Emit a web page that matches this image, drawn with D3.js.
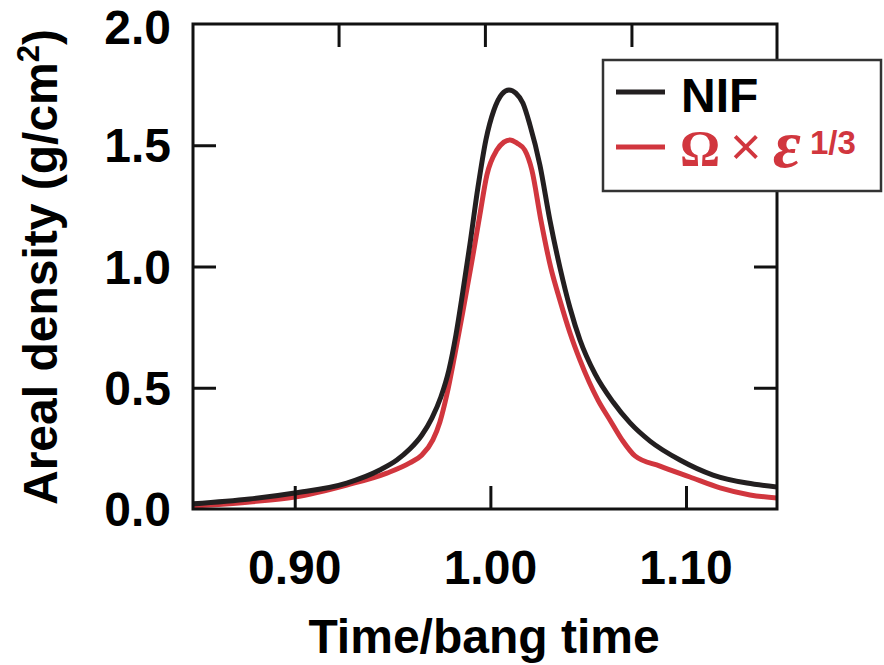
<!DOCTYPE html>
<html>
<head>
<meta charset="utf-8">
<script src="https://cdn.jsdelivr.net/npm/d3@7"></script>
<style>
  html, body { margin: 0; padding: 0; background: #fff; }
  svg { display: block; }
</style>
</head>
<body>
<svg id="chart" width="884" height="665" font-family="'Liberation Sans', Arial, Helvetica, sans-serif" font-weight="bold"></svg>
<script>
// ---- data ----
const nifTime = [0.8478,0.8770,0.9000,0.9266,0.9435,0.9522,0.9588,0.9650,0.9701,0.9747,0.9788,0.9824,0.9859,0.9895,0.9936,0.9977,1.0018,1.0059,1.0095,1.0130,1.0166,1.0202,1.0253,1.0304,1.0356,1.0407,1.0458,1.0535,1.0627,1.0714,1.0816,1.0969,1.1138,1.1312,1.1465];
const nifRho  = [0.021,0.041,0.066,0.107,0.161,0.202,0.247,0.305,0.375,0.462,0.573,0.718,0.895,1.089,1.324,1.522,1.645,1.711,1.728,1.715,1.674,1.584,1.419,1.192,0.994,0.829,0.697,0.557,0.441,0.355,0.280,0.202,0.140,0.107,0.091];
const omegaTime = [0.8478,0.8770,0.9000,0.9266,0.9471,0.9588,0.9650,0.9706,0.9742,0.9777,0.9818,0.9859,0.9905,0.9946,0.9982,1.0033,1.0069,1.0100,1.0136,1.0176,1.0212,1.0258,1.0309,1.0355,1.0407,1.0458,1.0550,1.0611,1.0673,1.0739,1.0867,1.1020,1.1174,1.1327,1.1465];
const omegaRho  = [0.012,0.029,0.049,0.099,0.148,0.190,0.223,0.285,0.359,0.470,0.635,0.812,1.019,1.212,1.377,1.480,1.513,1.522,1.509,1.480,1.398,1.192,0.994,0.862,0.726,0.614,0.449,0.367,0.285,0.219,0.177,0.132,0.087,0.058,0.045];
const xTicks = [0.90, 1.00, 1.10];
const xTickLabels = ["0.90", "1.00", "1.10"];
const xTopTicks = [0.9224, 0.9972, 1.0721];
const yTicks = [0.5, 1.0, 1.5];
const yTickLabels = [["0.0",0],["0.5",0.5],["1.0",1.0],["1.5",1.5],["2.0",2.0]];
const seriesNames = ["NIF", "Ω × ε1/3"];
const xTitle = "Time/bang time";

// ---- layout ----
const svg = d3.select("#chart");
const L = 193, R = 777, T = 24, B = 509;
const x = d3.scaleLinear().domain([0.848, 1.1465]).range([L, R]);
const y = d3.scaleLinear().domain([0, 2]).range([B, T]);
const black = "#231f20", red = "#d1363e";

svg.append("clipPath").attr("id","clip").append("rect")
  .attr("x", L).attr("y", T).attr("width", R - L).attr("height", B - T);

const line = d3.line().x(d => x(d[0])).y(d => y(d[1])).curve(d3.curveMonotoneX);
const g = svg.append("g").attr("clip-path", "url(#clip)");
g.append("path").datum(omegaTime.map((t,i)=>[t, omegaRho[i]]))
  .attr("d", line).attr("fill","none").attr("stroke", red).attr("stroke-width", 5).attr("stroke-linejoin","round");
g.append("path").datum(nifTime.map((t,i)=>[t, nifRho[i]]))
  .attr("d", line).attr("fill","none").attr("stroke", black).attr("stroke-width", 5).attr("stroke-linejoin","round");

// ticks (inward)
function styleAxis(sel){ sel.select(".domain").remove(); sel.selectAll(".tick line").attr("stroke","#111").attr("stroke-width",3); sel.selectAll("text").remove(); }
svg.append("g").attr("transform",`translate(0,${B})`).call(d3.axisBottom(x).tickValues(xTicks).tickSize(-23)).call(styleAxis);
svg.append("g").attr("transform",`translate(0,${T})`).call(d3.axisTop(x).tickValues(xTopTicks).tickSize(-23)).call(styleAxis);
svg.append("g").attr("transform",`translate(${L},0)`).call(d3.axisLeft(y).tickValues(yTicks).tickSize(-23)).call(styleAxis);
svg.append("g").attr("transform",`translate(${R},0)`).call(d3.axisRight(y).tickValues(yTicks).tickSize(-23)).call(styleAxis);

// frame
svg.append("rect").attr("x", L).attr("y", T).attr("width", R - L).attr("height", B - T)
  .attr("fill","none").attr("stroke","#111").attr("stroke-width",3);

// tick labels
svg.selectAll(".xl").data(xTicks).enter().append("text")
  .attr("x", d => x(d)).attr("y", 584).attr("text-anchor","middle")
  .attr("font-size", 48).attr("fill","#000").text((d,i)=>xTickLabels[i]);
svg.selectAll(".yl").data(yTickLabels).enter().append("text")
  .attr("x", 171).attr("y", d => Math.min(Math.max(y(d[1]), 27), 510) + 17)
  .attr("text-anchor","end").attr("font-size", 48).attr("fill","#000").text(d => d[0]);

// axis titles
svg.append("text").attr("x", 484).attr("y", 653).attr("text-anchor","middle")
  .attr("font-size", 48).attr("fill","#000").text(xTitle);
const yt = svg.append("text").attr("transform","translate(57,267) rotate(-90)")
  .attr("text-anchor","middle").attr("font-size", 48).attr("fill","#000");
yt.append("tspan").text("Areal density (g/cm");
yt.append("tspan").attr("font-size", 31).attr("dy", -18).text("2");
yt.append("tspan").attr("dy", 18).text(")");

// legend
const lg = svg.append("g");
lg.append("rect").attr("x", 603).attr("y", 60).attr("width", 278).attr("height", 131)
  .attr("fill","#fff").attr("stroke","#333").attr("stroke-width",2.5);
lg.append("line").attr("x1",616).attr("x2",665).attr("y1",92).attr("y2",92).attr("stroke",black).attr("stroke-width",5);
lg.append("line").attr("x1",616).attr("x2",665).attr("y1",147).attr("y2",147).attr("stroke",red).attr("stroke-width",5);
lg.append("text").attr("x", 681).attr("y", 112).attr("font-size", 48).attr("fill","#000").text(seriesNames[0]);
const serif = "'Liberation Serif', 'Times New Roman', serif";
lg.append("text").attr("x", 680).attr("y", 165).attr("fill", red)
  .style("font-family", serif).style("font-weight","bold").attr("font-size", 50).text("Ω");
lg.append("text").attr("x", 730).attr("y", 165).attr("fill", red)
  .style("font-weight","normal").attr("font-size", 54).text("×");
lg.append("text").attr("x", 773).attr("y", 167).attr("fill", red)
  .style("font-family", serif).style("font-style","italic").style("font-weight","bold").attr("font-size", 68).text("ε");
lg.append("text").attr("x", 810).attr("y", 154).attr("fill", red)
  .attr("font-size", 33).text("1/3");
</script>
</body>
</html>
